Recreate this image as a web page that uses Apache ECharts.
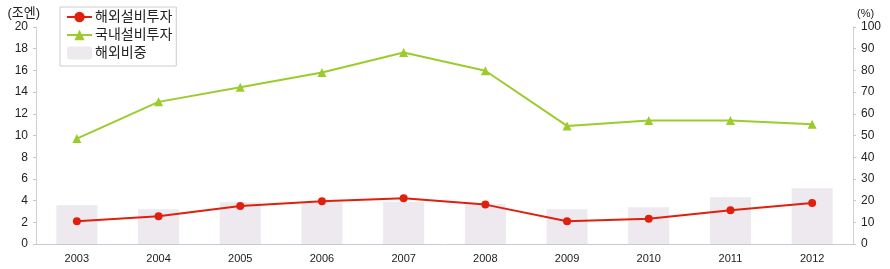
<!DOCTYPE html>
<html><head><meta charset="utf-8">
<script src="https://cdn.jsdelivr.net/npm/echarts@6/dist/echarts.min.js"></script>
<style>html,body{margin:0;padding:0;background:#fff}#c{width:890px;height:269px}</style>
</head><body><div id="c"></div>
<script>
const categories = ['2003','2004','2005','2006','2007','2008','2009','2010','2011','2012'];
const overseasInvest = [2.1, 2.55, 3.5, 3.95, 4.22, 3.63, 2.1, 2.33, 3.1, 3.78];
const domesticInvest = [9.72, 13.1, 14.45, 15.8, 17.65, 15.97, 10.88, 11.38, 11.38, 11.03];
const overseasShare = [17.8, 16.0, 19.2, 19.4, 19.5, 18.3, 16.0, 16.9, 21.5, 25.7];
const leftTicks = {min:0, max:20, interval:2};
const rightTicks = {min:0, max:100, interval:10};

const font = '"Liberation Sans", "Noto Sans CJK KR", sans-serif';
const chart = echarts.init(document.getElementById('c'));
chart.setOption({
  animation:false,
  textStyle:{fontFamily:font},
  grid:{left:36, right:37, top:27, bottom:25},
  legend:{
    left:60, top:7, orient:'vertical', itemGap:4, padding:[3,4,6,6],
    borderColor:'#cccccc', borderWidth:1, backgroundColor:'#fff',
    itemWidth:25, itemHeight:13,
    textStyle:{fontSize:14, color:'#222', fontFamily:font, padding:[0,0,0,-2]},
    data:[{name:'해외설비투자'},{name:'국내설비투자'},{name:'해외비중'}]
  },
  xAxis:{
    type:'category', data:categories, boundaryGap:true,
    axisLine:{lineStyle:{color:'#c8c8dc', width:1}},
    axisTick:{inside:true, length:5, lineStyle:{color:'#c0c0c0'}},
    axisLabel:{fontSize:11, color:'#222', margin:9, fontFamily:font}
  },
  yAxis:[{
    type:'value', min:leftTicks.min, max:leftTicks.max, interval:leftTicks.interval,
    name:'(조엔)', nameLocation:'end', nameGap:7,
    nameTextStyle:{fontSize:13, color:'#222', align:'right', padding:[0,-4,0,0]},
    axisLine:{show:true, lineStyle:{color:'#d0d0d0'}},
    axisTick:{show:true, length:3, lineStyle:{color:'#c8c8c8'}},
    axisLabel:{fontSize:12, color:'#222', margin:8},
    splitLine:{show:false}
  },{
    type:'value', min:rightTicks.min, max:rightTicks.max, interval:rightTicks.interval,
    name:'(%)', nameLocation:'end', nameGap:8,
    nameTextStyle:{fontSize:11, color:'#222', align:'left', padding:[0,0,0,4]},
    axisLine:{show:true, lineStyle:{color:'#d0d0d0'}},
    axisTick:{show:true, length:3, inside:false, lineStyle:{color:'#c8c8c8'}},
    axisLabel:{fontSize:12, color:'#222', margin:8},
    splitLine:{show:false}
  }],
  series:[{
    name:'해외비중', type:'bar', yAxisIndex:1, data:overseasShare,
    barWidth:41, itemStyle:{color:'#ede9ef'}, z:1
  },{
    name:'해외설비투자', type:'line', yAxisIndex:0, data:overseasInvest,
    symbol:'circle', symbolSize:8, lineStyle:{color:'#e0200e', width:2},
    itemStyle:{color:'#e0200e'}, z:3
  },{
    name:'국내설비투자', type:'line', yAxisIndex:0, data:domesticInvest,
    symbol:'triangle', symbolSize:9, lineStyle:{color:'#9ccc2c', width:2},
    itemStyle:{color:'#9ccc2c'}, z:3
  }]
});
</script></body></html>
